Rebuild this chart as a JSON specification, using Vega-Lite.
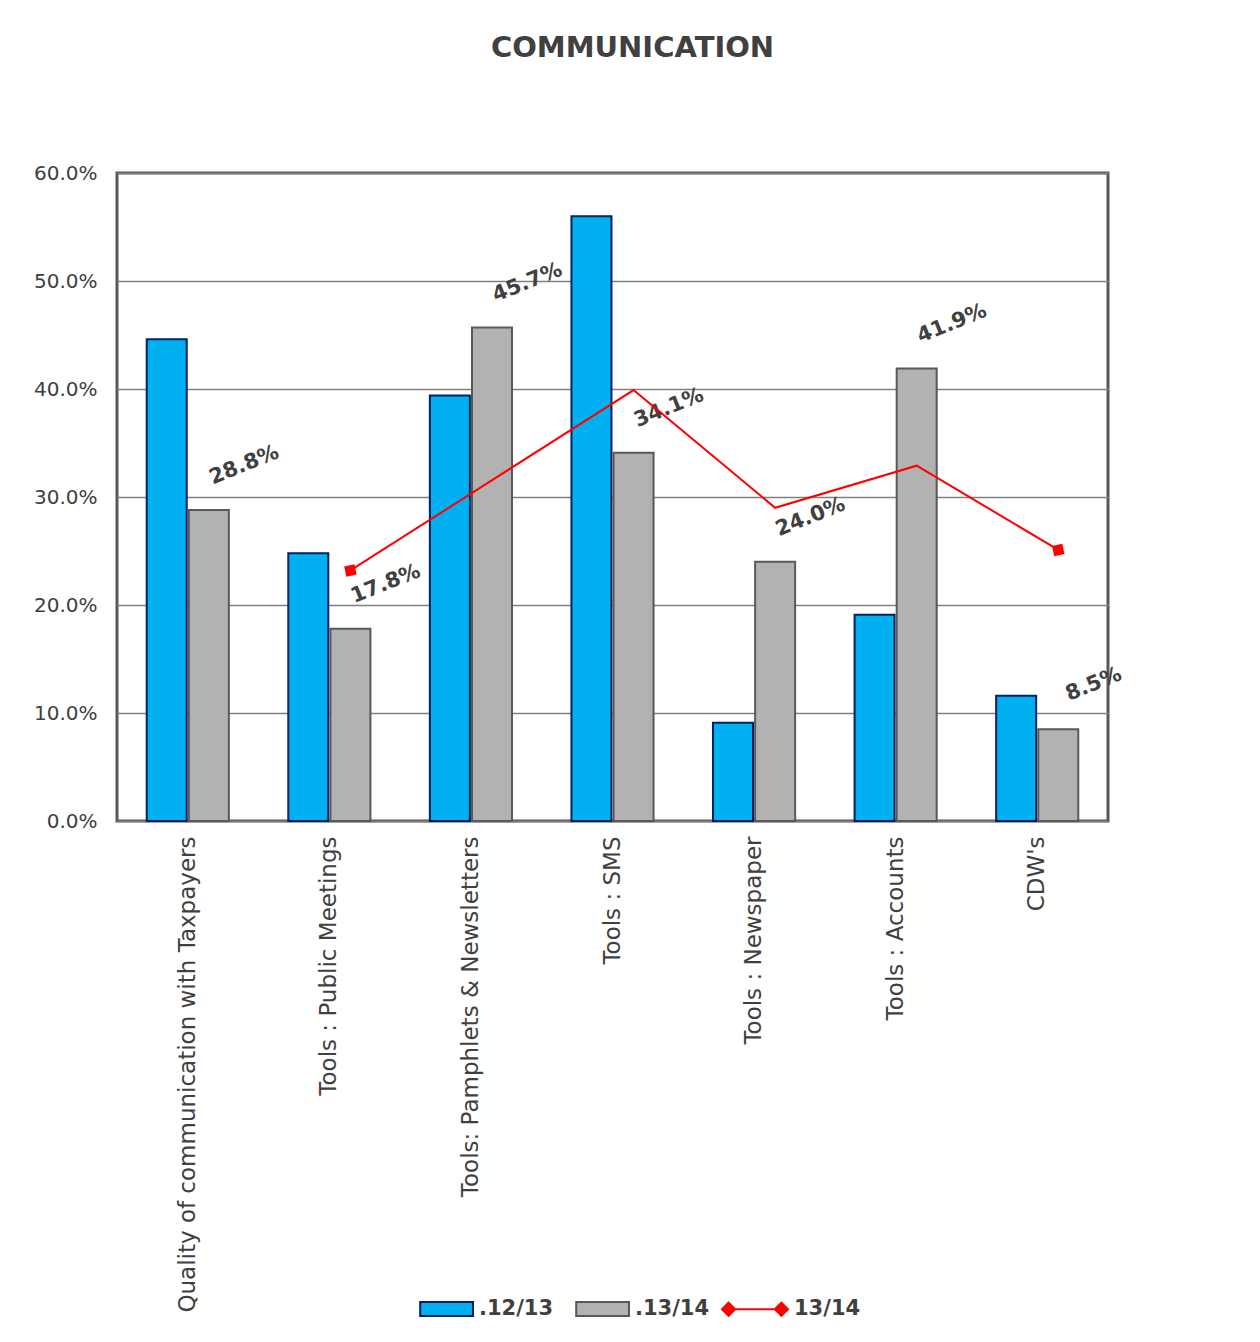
{
  "$schema": "https://vega.github.io/schema/vega-lite/v6.json",
  "width": 991,
  "height": 648,
  "autosize": {"type": "none"},
  "padding": {"left": 117, "top": 173, "right": 152, "bottom": 521},
  "background": "white",
  "title": {
    "text": "COMMUNICATION",
    "fontSize": 29,
    "fontWeight": "bold",
    "font": "DejaVu Sans",
    "color": "#404040",
    "anchor": "middle",
    "frame": "group",
    "dx": 20,
    "offset": 77,
    "baseline": "alphabetic"
  },
  "config": {
    "font": "DejaVu Sans",
    "view": {"stroke": "#595959", "strokeWidth": 3},
    "axis": {
      "labelFont": "DejaVu Sans",
      "labelColor": "#404040",
      "labelFontSize": 20,
      "ticks": false,
      "domain": false
    }
  },
  "data": {
    "values": [
      {"category": "Quality of communication with Taxpayers", "series": ".12/13", "value": 0.446},
      {"category": "Quality of communication with Taxpayers", "series": ".13/14", "value": 0.288},
      {"category": "Tools : Public Meetings", "series": ".12/13", "value": 0.248},
      {"category": "Tools : Public Meetings", "series": ".13/14", "value": 0.178},
      {"category": "Tools : Public Meetings", "series": "13/14", "value": 0.232},
      {"category": "Tools: Pamphlets & Newsletters", "series": ".12/13", "value": 0.394},
      {"category": "Tools: Pamphlets & Newsletters", "series": ".13/14", "value": 0.457},
      {"category": "Tools : SMS", "series": ".12/13", "value": 0.56},
      {"category": "Tools : SMS", "series": ".13/14", "value": 0.341},
      {"category": "Tools : SMS", "series": "13/14", "value": 0.399},
      {"category": "Tools : Newspaper", "series": ".12/13", "value": 0.091},
      {"category": "Tools : Newspaper", "series": ".13/14", "value": 0.24},
      {"category": "Tools : Newspaper", "series": "13/14", "value": 0.29},
      {"category": "Tools : Accounts", "series": ".12/13", "value": 0.191},
      {"category": "Tools : Accounts", "series": ".13/14", "value": 0.419},
      {"category": "Tools : Accounts", "series": "13/14", "value": 0.329},
      {"category": "CDW's", "series": ".12/13", "value": 0.116},
      {"category": "CDW's", "series": ".13/14", "value": 0.085},
      {"category": "CDW's", "series": "13/14", "value": 0.251}
    ]
  },
  "encoding": {
    "x": {
      "field": "category",
      "type": "nominal",
      "sort": null,
      "scale": {"paddingInner": 0.42, "paddingOuter": 0.21},
      "axis": {"title": null, "labelAngle": -90, "labelPadding": 15, "labelLimit": 700, "labelFontSize": 23}
    },
    "y": {
      "field": "value",
      "type": "quantitative",
      "scale": {"domain": [0, 0.6], "nice": false},
      "axis": {
        "title": null,
        "format": ".1%",
        "values": [0, 0.1, 0.2, 0.3, 0.4, 0.5, 0.6],
        "grid": true,
        "gridColor": "#808080",
        "gridWidth": 1.5,
        "labelPadding": 20
      }
    }
  },
  "layer": [
    {
      "transform": [{"filter": "datum.series !== '13/14'"}],
      "mark": {"type": "bar", "strokeWidth": 2},
      "encoding": {
        "xOffset": {"field": "series", "type": "nominal", "scale": {"domain": [".12/13", ".13/14"], "paddingInner": 0.05}},
        "color": {
          "field": "series",
          "type": "nominal",
          "scale": {"domain": [".12/13", ".13/14", "13/14"], "range": ["#00B0F0", "#B2B2B2", "#FF0000"]},
          "legend": {
            "title": null,
            "orient": "none",
            "legendX": 289,
            "legendY": 1102,
            "direction": "horizontal",
            "padding": 0,
            "symbolSize": 4356,
            "symbolStrokeWidth": 2,
            "labelFontSize": 21,
            "labelFontWeight": "bold",
            "labelColor": "#404040",
            "labelFont": "DejaVu Sans",
            "labelOffset": 5,
            "columnPadding": 8,
            "encode": {
              "symbols": {
                "update": {
                  "shape": {"signal": "datum.value === '13/14' ? 'M-0.8,0H0.8M-1,0L-0.8,-0.2L-0.6,0L-0.8,0.2ZM0.6,0L0.8,-0.2L1,0L0.8,0.2Z' : 'M-0.6,-0.21H1V0.21H-0.6Z'"},
                  "fill": {"signal": "datum.value === '.12/13' ? '#00B0F0' : datum.value === '.13/14' ? '#B2B2B2' : '#FF0000'"},
                  "stroke": {"signal": "datum.value === '.12/13' ? '#002060' : datum.value === '.13/14' ? '#595959' : '#FF0000'"},
                  "strokeWidth": {"value": 2},
                  "opacity": {"value": 1}
                }
              }
            }
          }
        },
        "stroke": {
          "field": "series",
          "type": "nominal",
          "scale": {"domain": [".12/13", ".13/14"], "range": ["#002060", "#595959"]},
          "legend": null
        }
      }
    },
    {
      "transform": [{"filter": "datum.series === '.13/14'"}],
      "mark": {
        "type": "text",
        "font": "DejaVu Sans",
        "fontSize": 21,
        "fontWeight": "bold",
        "color": "#404040",
        "angle": -22,
        "align": "center",
        "baseline": "middle",
        "radius": 57,
        "theta": 0.67
      },
      "encoding": {
        "xOffset": {"field": "series", "type": "nominal"},
        "text": {"field": "value", "type": "quantitative", "format": ".1%"}
      }
    },
    {
      "transform": [{"filter": "datum.series === '13/14'"}],
      "mark": {"type": "line", "color": "#FF0000", "strokeWidth": 2},
      "encoding": {
        "xOffset": {"datum": ".13/14"}
      }
    },
    {
      "transform": [{"filter": "datum.series === '13/14' && (datum.category === 'Tools : Public Meetings' || datum.category === \"CDW's\")"}],
      "mark": {"type": "point", "shape": "square", "filled": true, "size": 110, "angle": -12, "color": "#FF0000", "opacity": 1},
      "encoding": {
        "xOffset": {"datum": ".13/14"}
      }
    }
  ]
}
